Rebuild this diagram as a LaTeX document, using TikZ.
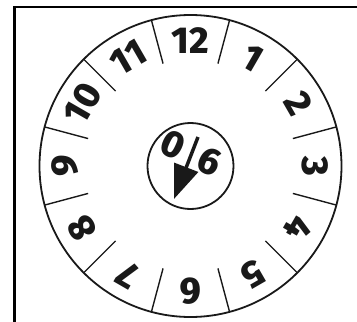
\documentclass[tikz,border=0pt]{standalone}
\usepackage{fontspec}
\IfFontExistsTF{Fira Sans ExtraBold}
  {\newfontfamily\dialfont{Fira Sans ExtraBold}}
  {\newfontfamily\dialfont{Open Sans Bold}}
\usetikzlibrary{arrows.meta}
\begin{document}
\begin{tikzpicture}[x=1pt,y=1pt,
  dialnum/.style={font=\dialfont\fontsize{34}{38}\selectfont, scale=1.1, inner sep=0pt, anchor=center, text=black!90},
  hubtext/.style={font=\dialfont\fontsize{29}{32}\selectfont, scale=1.3, inner sep=0pt, rotate=-25, text=black!90},
  ticklines/.style={line width=1.4pt, draw=black!90},
  rim/.style={line width=1.8pt, draw=black!90},
  frameline/.style={line width=2.8pt, draw=black}]
\useasboundingbox (-190.5,-156) rectangle (166.5,166);
\coordinate (fb) at (-176.3,-162);
\coordinate (fc) at (-176.3,159);
\coordinate (fr) at (172,159);
\draw[frameline] (fb) -- (fc) -- (fr);
\node[circle, rim, draw, minimum size=302pt, inner sep=0pt, outer sep=0pt] (dial) at (0,0) {};
\node[circle, rim, draw, minimum size=86pt, inner sep=0pt, outer sep=0pt] (hub) at (0,0) {};
\foreach \k in {1,...,12} {
  \pgfmathsetmacro\ang{90-30*\k}
  \pgfmathsetmacro\rot{\ang-90}
  \node[dialnum, rotate=\rot] (n\k) at (\ang:125) {\k};
}
\foreach \t in {15,45,...,345} {
  \coordinate (ti\t) at (\t:106);
  \draw[ticklines] (ti\t) -- (dial.\t);
}
\node[hubtext] (zero) at (-17,21) {0};
\node[hubtext] (six) at (19.5,4) {6};
\coordinate (ashaft) at (7.5,29);
\coordinate (atip) at (-16.5,-33);
\draw[line width=3.5pt, draw=black!90, -{Triangle[length=34pt,width=25pt]}] (ashaft) -- (atip);
\end{tikzpicture}
\end{document}
